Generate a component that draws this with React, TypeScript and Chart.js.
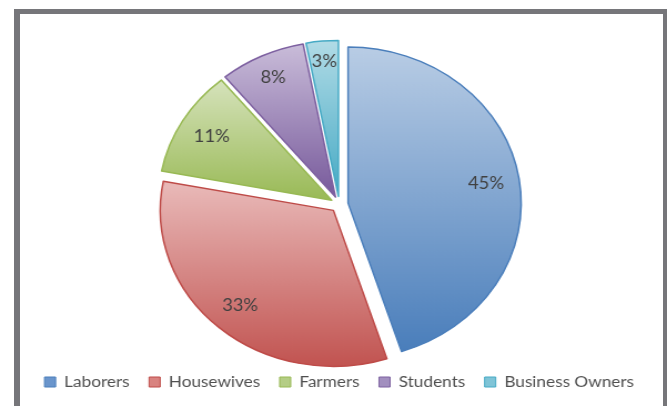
import React, { useEffect, useRef } from 'react';
import { Chart, PieController, ArcElement, Legend } from 'chart.js';

Chart.register(PieController, ArcElement, Legend);

const categories = ['Laborers', 'Housewives', 'Farmers', 'Students', 'Business Owners'];
const shares = [45, 33, 11, 8, 3];
const percentLabels = ['45%', '33%', '11%', '8%', '3%'];

const topColors = ['#b9cde5', '#e8b7b6', '#d8e4bf', '#cdc1dc', '#b7dee8'];
const bottomColors = ['#4a7ebb', '#c0504d', '#9bbb59', '#7b5e9e', '#4bacc6'];
const borderColors = ['#4a7ebb', '#be4b48', '#98b954', '#7d60a0', '#46aac5'];
const legendColors = ['#6a95cc', '#d98380', '#b4cd85', '#a28fbf', '#7fc4d7'];

const CANVAS_W = 601;
const CANVAS_H = 406;
const PAGE_W = 667;
const RADIUS = 156;
const EXPLODE = 8;
const LABEL_FONT = '16.5px Lato';

function sliceGeom(arc: any) {
  const { x, y, startAngle, endAngle, outerRadius } = arc;
  const mid = (startAngle + endAngle) / 2;
  const ox = Math.cos(mid) * EXPLODE;
  const oy = Math.sin(mid) * EXPLODE;
  let minY = y + oy;
  let maxY = y + oy;
  for (let i = 0; i <= 60; i++) {
    const a = startAngle + ((endAngle - startAngle) * i) / 60;
    const py = y + oy + Math.sin(a) * outerRadius;
    minY = Math.min(minY, py);
    maxY = Math.max(maxY, py);
  }
  return { mid, ox, oy, minY, maxY, cx: x + ox, cy: y + oy };
}

const explodePlugin = {
  id: 'explodeGradient',
  beforeDatasetsDraw(chart: any) {
    const meta = chart.getDatasetMeta(0);
    meta.data.forEach((arc: any, i: number) => {
      if (arc.__patched) return;
      arc.__patched = true;
      arc.draw = function (ctx: CanvasRenderingContext2D) {
        const g = sliceGeom(this);
        const grad = ctx.createLinearGradient(0, g.minY, 0, g.maxY);
        grad.addColorStop(0, topColors[i]);
        grad.addColorStop(1, bottomColors[i]);
        const saved = this.options;
        this.options = Object.assign({}, saved, { backgroundColor: grad });
        ctx.save();
        ctx.translate(g.ox, g.oy);
        ArcElement.prototype.draw.call(this, ctx);
        ctx.restore();
        this.options = saved;
      };
    });
  },
  afterDatasetsDraw(chart: any) {
    const ctx = chart.ctx as CanvasRenderingContext2D;
    const meta = chart.getDatasetMeta(0);
    ctx.save();
    ctx.font = LABEL_FONT;
    ctx.fillStyle = '#404040';
    ctx.textAlign = 'center';
    ctx.textBaseline = 'middle';
    meta.data.forEach((arc: any, i: number) => {
      const g = sliceGeom(arc);
      const text = percentLabels[i];
      const tw = ctx.measureText(text).width;
      const th = 14;
      const d =
        arc.outerRadius - 13 -
        (tw / 2) * Math.abs(Math.cos(g.mid)) -
        (th / 2) * Math.abs(Math.sin(g.mid));
      ctx.fillText(text, g.cx + Math.cos(g.mid) * d, g.cy + Math.sin(g.mid) * d);
    });
    ctx.restore();
  },
};

export default function App() {
  const ref = useRef<HTMLCanvasElement>(null);

  useEffect(() => {
    if (!ref.current) return;
    Chart.defaults.font.family = 'Lato';
    const chart = new Chart(ref.current, {
      type: 'pie',
      data: {
        labels: categories,
        datasets: [
          {
            data: shares,
            backgroundColor: legendColors,
            borderColor: borderColors,
            borderWidth: 1.5,
            borderJoinStyle: 'round',
            radius: RADIUS,
            offset: 0,
            hoverOffset: 0,
            clip: false,
          } as any,
        ],
      },
      options: {
        responsive: false,
        animation: false,
        events: [],
        layout: { padding: { left: 10.4, right: 0, top: 52, bottom: 6.25 } },
        plugins: {
          legend: {
            position: 'bottom',
            labels: {
              boxWidth: 10,
              boxHeight: 10,
              padding: 17.5,
              color: '#505050',
              font: { family: 'Lato', size: 15.5 },
              generateLabels: () =>
                categories.map((c, i) => ({
                  text: c,
                  fillStyle: legendColors[i],
                  strokeStyle: borderColors[i],
                  lineWidth: 1,
                  hidden: false,
                  index: i,
                  fontColor: '#505050',
                })),
            },
          },
          tooltip: { enabled: false },
        },
      },
      plugins: [explodePlugin],
    });
    return () => chart.destroy();
  }, []);

  return (
    <div
      style={{
        position: 'absolute',
        left: 0,
        top: 0,
        width: PAGE_W,
        height: CANVAS_H,
        overflow: 'hidden',
        background: '#ffffff',
      }}
    >
      <div
        style={{
          position: 'absolute',
          left: 14,
          top: 9,
          width: 655,
          height: 430,
          boxSizing: 'border-box',
          borderStyle: 'solid',
          borderColor: '#76767a',
          borderWidth: '5px 6px 6px 6px',
        }}
      />
      <canvas
        ref={ref}
        width={CANVAS_W}
        height={CANVAS_H}
        style={{ position: 'absolute', left: 0, top: 0, width: PAGE_W + 'px', height: CANVAS_H + 'px' }}
      />
    </div>
  );
}
